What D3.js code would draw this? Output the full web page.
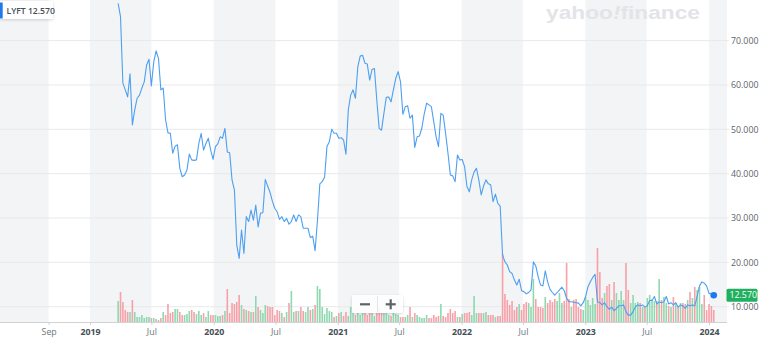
<!DOCTYPE html>
<html>
<head>
<meta charset="utf-8">
<script src="https://cdn.jsdelivr.net/npm/d3@7"></script>
<style>
  html, body { margin: 0; padding: 0; background: #fff; }
  svg { display: block; font-family: "Open Sans", "DejaVu Sans", sans-serif; }
</style>
</head>
<body>
<svg id="chart" width="760" height="349"></svg>
<script>
// Weekly LYFT closes (USD) starting with the week of the IPO
const ticker = "LYFT";
const firstWeek = "2019-03-25";
const closes = [
  78.4, 75.4, 60.4, 58.9, 57.3, 62.5, 51.0, 54.4, 57.0, 57.7,
  59.3, 60.7, 64.5, 65.8, 59.8, 65.2, 67.7, 66.0, 58.9, 59.3,
  52.1, 49.2, 49.1, 44.6, 46.2, 46.5, 41.2, 39.3, 39.7, 40.8,
  44.4, 43.1, 43.0, 43.1, 46.8, 49.1, 45.3, 46.8, 48.0, 45.3,
  43.2, 46.1, 46.7, 48.3, 48.0, 50.2, 44.9, 44.7, 38.6, 36.3,
  23.9, 20.9, 27.3, 22.0, 30.3, 29.2, 31.8, 29.5, 32.9, 28.0,
  31.1, 31.2, 38.7, 37.2, 35.8, 33.8, 32.2, 31.4, 29.7, 30.3,
  29.2, 29.9, 28.6, 29.2, 30.7, 29.2, 30.7, 30.3, 27.7, 27.7,
  27.7, 25.6, 25.9, 22.6, 29.5, 37.7, 38.2, 39.2, 46.1, 47.2,
  50.0, 49.1, 49.1, 48.0, 48.1, 47.6, 44.4, 54.4, 57.7, 58.9,
  57.0, 64.1, 66.5, 66.7, 64.9, 64.7, 61.1, 63.5, 63.7, 56.6,
  50.2, 49.8, 53.6, 57.2, 57.3, 56.2, 58.9, 61.5, 63.0, 60.7,
  53.4, 55.1, 55.3, 52.5, 53.2, 45.9, 48.3, 48.5, 50.3, 53.5,
  55.9, 55.5, 55.1, 51.7, 48.3, 46.1, 53.6, 53.2, 49.1, 44.6,
  39.7, 39.5, 38.2, 44.2, 43.1, 43.2, 41.6, 37.1, 35.9, 38.6,
  40.4, 41.2, 38.6, 35.2, 37.2, 38.6, 37.7, 37.5, 33.7, 35.4,
  33.3, 32.7, 21.7, 20.1, 19.4, 17.9, 17.5, 16.0, 14.9, 16.2,
  13.6, 13.4, 12.9, 13.2, 13.8, 20.1, 19.2, 16.8, 14.9, 14.7,
  18.1, 15.6, 13.9, 13.2, 12.6, 13.2, 13.8, 14.4, 13.6, 11.9,
  11.1, 11.1, 11.0, 10.9, 10.8, 10.2, 10.9, 12.3, 14.5, 15.6,
  16.6, 17.3, 11.1, 10.9, 10.4, 10.9, 10.0, 9.4, 9.9, 9.1,
  9.6, 10.2, 10.2, 10.4, 8.9, 8.1, 8.1, 8.9, 10.0, 10.4,
  10.2, 10.4, 9.9, 10.2, 11.4, 11.4, 12.3, 10.6, 11.1, 10.9,
  11.1, 12.3, 10.6, 10.9, 10.4, 10.9, 9.9, 10.4, 10.2, 9.6,
  10.4, 10.2, 10.4, 10.2, 12.3, 14.7, 15.6, 15.3, 14.7, 13.0,
  12.9, 12.57
];
// Weekly traded volume, millions of shares
const volumes = [
  42, 60, 40, 24, 20, 20, 44, 20, 10, 10,
  14, 8, 10, 10, 8, 8, 6, 4, 8, 20,
  14, 36, 18, 20, 26, 26, 20, 14, 14, 16,
  22, 24, 20, 16, 22, 14, 18, 10, 22, 14,
  14, 14, 12, 12, 14, 22, 66, 18, 38, 36,
  40, 54, 34, 26, 24, 22, 20, 20, 52, 30,
  24, 18, 34, 32, 30, 30, 14, 24, 22, 18,
  10, 20, 38, 62, 20, 22, 22, 30, 22, 20,
  30, 24, 26, 34, 72, 66, 30, 16, 28, 22,
  20, 10, 12, 18, 20, 12, 20, 12, 30, 18,
  14, 18, 14, 18, 18, 14, 18, 18, 12, 18,
  30, 18, 18, 18, 14, 12, 18, 16, 14, 10,
  10, 10, 14, 30, 10, 18, 14, 10, 8, 8,
  14, 8, 8, 14, 10, 12, 36, 12, 10, 18,
  26, 18, 22, 10, 10, 16, 18, 18, 20, 14,
  52, 18, 18, 18, 18, 20, 14, 14, 14, 10,
  12, 12, 136, 56, 44, 34, 42, 24, 30, 36,
  24, 36, 40, 38, 30, 86, 46, 30, 30, 28,
  50, 38, 44, 40, 46, 42, 58, 38, 42, 118,
  46, 30, 44, 46, 30, 26, 24, 50, 44, 34,
  48, 36, 148, 100, 48, 58, 72, 76, 44, 80,
  58, 44, 62, 44, 118, 64, 38, 54, 38, 40,
  38, 30, 30, 48, 54, 46, 42, 42, 86, 44,
  50, 38, 32, 30, 50, 38, 30, 38, 38, 36,
  44, 60, 48, 70, 64, 70, 36, 54, 24, 36,
  32, 24
];
const xTickDates = ["2018-09-01", "2019-01-01", "2019-07-01", "2020-01-01", "2020-07-01",
  "2021-01-01", "2021-07-01", "2022-01-01", "2022-07-01", "2023-01-01", "2023-07-01", "2024-01-01"];
const xTickLabels = ["Sep", "2019", "Jul", "2020", "Jul", "2021", "Jul", "2022", "Jul", "2023", "Jul", "2024"];
const yTicks = [10, 20, 30, 40, 50, 60, 70];

const parse = d3.timeParse("%Y-%m-%d");
const start = parse(firstWeek);
const weeks = closes.map((c, i) => ({
  date: d3.timeDay.offset(start, 7 * i),
  close: c,
  volume: volumes[i],
  up: i === 0 || c >= closes[i - 1]
}));

const svg = d3.select("#chart");
const plotLeft = 0, plotRight = 727, plotBottom = 322;

const x = d3.scaleTime()
  .domain([parse("2019-01-01"), parse("2024-01-01")])
  .range([90, 709]);
const y = d3.scaleLinear().domain([10, 70]).range([306.7, 40.6]);
const yVol = d3.scaleLinear().domain([0, 200]).range([plotBottom, plotBottom - 100]);

const defs = svg.append("defs");
const shadow = defs.append("filter").attr("id", "shadow")
  .attr("x", "-20%").attr("y", "-40%").attr("width", "140%").attr("height", "180%");
shadow.append("feDropShadow").attr("dx", 0).attr("dy", 1).attr("stdDeviation", 1.4)
  .attr("flood-color", "#000").attr("flood-opacity", 0.16);

// alternating background bands between axis ticks
const tickDates = xTickDates.map(parse);
const bounds = [x.invert(plotLeft), ...tickDates, x.invert(plotRight)];
const bands = d3.pairs(bounds).filter((_, i) => i % 2 === 0);
svg.append("g").selectAll("rect").data(bands).join("rect")
  .attr("x", d => x(d[0]))
  .attr("y", 0)
  .attr("width", d => x(d[1]) - x(d[0]))
  .attr("height", plotBottom)
  .attr("fill", "#f3f4f5");

// horizontal grid
svg.append("g").selectAll("line").data(yTicks).join("line")
  .attr("x1", plotLeft).attr("x2", plotRight + 2)
  .attr("y1", d => y(d)).attr("y2", d => y(d))
  .attr("stroke", "#e8e9eb").attr("stroke-width", 1);

// watermark
const wm = svg.append("text")
  .attr("x", 546).attr("y", 19)
  .attr("textLength", 154).attr("lengthAdjust", "spacingAndGlyphs")
  .attr("font-family", "'Liberation Sans', Arial, sans-serif")
  .attr("font-size", 19).attr("font-weight", 700)
  .attr("fill", "#e2e4e7");
wm.append("tspan").text("yahoo");
wm.append("tspan").attr("font-style", "italic").text("!");
wm.append("tspan").text("finance");

// volume bars
svg.append("g").selectAll("rect").data(weeks).join("rect")
  .attr("x", d => x(d.date) - 0.8)
  .attr("width", 1.6)
  .attr("y", d => yVol(d.volume))
  .attr("height", d => plotBottom - yVol(d.volume))
  .attr("fill", d => d.up ? "#8fd8b0" : "#f6a1a9");

// price line
svg.append("path")
  .datum(weeks)
  .attr("fill", "none")
  .attr("stroke", "#4d9ff0")
  .attr("stroke-width", 1.1)
  .attr("stroke-linejoin", "round")
  .attr("d", d3.line().x(d => x(d.date)).y(d => y(d.close)));

const last = weeks[weeks.length - 1];
svg.append("circle")
  .attr("cx", x(last.date)).attr("cy", y(last.close)).attr("r", 3.3)
  .attr("fill", "#1e78f0");

// bottom axis
const xAxis = d3.axisBottom(x)
  .tickValues(tickDates)
  .tickFormat((d, i) => xTickLabels[i])
  .tickSize(3).tickSizeOuter(0).tickPadding(4);
const gx = svg.append("g").attr("transform", `translate(0,${plotBottom})`).call(xAxis);
gx.select(".domain").attr("d", `M${plotLeft},0.5H${plotRight}`).attr("stroke", "#cfd3d6");
gx.selectAll(".tick line").attr("stroke", "#cfd3d6");
gx.selectAll(".tick text")
  .attr("font-family", "'Open Sans', sans-serif")
  .attr("font-size", 8.8)
  .attr("font-weight", (d, i) => /^\d{4}$/.test(xTickLabels[i]) ? 700 : 400)
  .attr("fill", (d, i) => /^\d{4}$/.test(xTickLabels[i]) ? "#464e56" : "#6e767d");

// right price axis
const yAxis = d3.axisRight(y)
  .tickValues(yTicks)
  .tickFormat(d3.format(".3f"))
  .tickSize(0).tickPadding(4);
const gy = svg.append("g").attr("transform", `translate(${plotRight},0)`).call(yAxis);
gy.select(".domain").remove();
gy.selectAll(".tick text")
  .attr("font-family", "'Open Sans', sans-serif")
  .attr("font-size", 8.8)
  .attr("fill", "#5b636a");

// last price tag on the axis
const tagY = y(last.close);
svg.append("rect")
  .attr("x", plotRight - 0.5).attr("y", tagY - 6.5)
  .attr("width", 31).attr("height", 13).attr("rx", 1.5)
  .attr("fill", "#20b05f");
svg.append("text")
  .attr("x", plotRight + 2.5).attr("y", tagY)
  .attr("dy", "0.35em")
  .attr("font-size", 8.8).attr("fill", "#fff")
  .text(d3.format(".3f")(last.close));

// ticker badge
const badge = svg.append("g");
badge.append("rect")
  .attr("x", 0).attr("y", 1).attr("width", 53).attr("height", 18)
  .attr("fill", "#fff").attr("filter", "url(#shadow)");
badge.append("rect")
  .attr("x", 0).attr("y", 2.5).attr("width", 2.7).attr("height", 16)
  .attr("fill", "#1e78f0");
badge.append("text")
  .attr("x", 6.5).attr("y", 10.5).attr("dy", "0.35em")
  .attr("font-size", 8.6).attr("font-weight", 600).attr("fill", "#464e56")
  .text(`${ticker} ${d3.format(".3f")(last.close)}`);

// zoom controls
const zoomCtl = svg.append("g");
zoomCtl.append("rect")
  .attr("x", 352).attr("y", 295).attr("width", 51).attr("height", 18).attr("rx", 2)
  .attr("fill", "rgba(255,255,255,0.92)").attr("filter", "url(#shadow)");
zoomCtl.append("line")
  .attr("x1", 377.5).attr("x2", 377.5).attr("y1", 296).attr("y2", 312)
  .attr("stroke", "#e3e5e8");
zoomCtl.append("rect").attr("x", 360).attr("y", 303.2).attr("width", 10).attr("height", 2.2).attr("fill", "#5c646b");
zoomCtl.append("rect").attr("x", 385.7).attr("y", 303.2).attr("width", 10).attr("height", 2.2).attr("fill", "#5c646b");
zoomCtl.append("rect").attr("x", 389.6).attr("y", 299.3).attr("width", 2.2).attr("height", 10).attr("fill", "#5c646b");
</script>
</body>
</html>
